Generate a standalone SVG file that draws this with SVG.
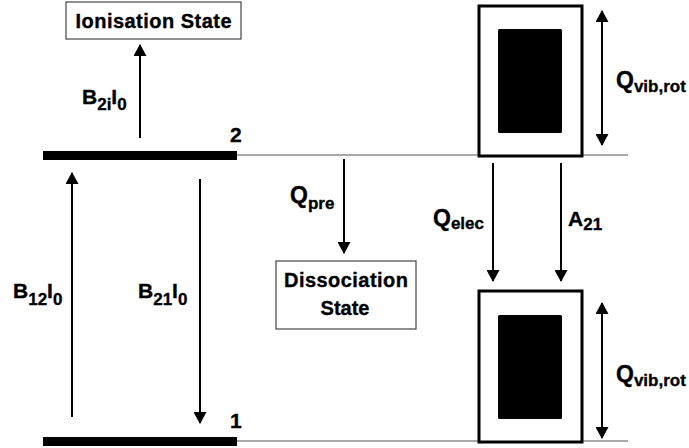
<svg xmlns="http://www.w3.org/2000/svg" width="689" height="448" viewBox="0 0 689 448">
<style>
.t{font-family:"Liberation Sans",Arial,sans-serif;font-weight:bold;fill:#000;stroke:#000;stroke-width:0.35}
.m{font-size:20px}
.b{font-size:21px}
.s{font-size:17px}
.q{font-size:23px}
.qs{font-size:17px}
.lvl{stroke:#000;stroke-width:9}
.thin{stroke:#555;stroke-width:1.2;fill:none}
.arr{stroke:#000;stroke-width:2;fill:none}
.box{fill:#fff;stroke:#444;stroke-width:1.2}
.outer{fill:#fff;stroke:#000;stroke-width:3}
.inner{fill:#000}
</style>
<defs>
<marker id="ah" viewBox="0 0 12 13" refX="11" refY="6.5" markerWidth="12" markerHeight="13" markerUnits="userSpaceOnUse" orient="auto">
<path d="M0,0 L12,6.5 L0,13 Z" fill="#000"/>
</marker>
<marker id="as" viewBox="0 0 12 13" refX="1" refY="6.5" markerWidth="12" markerHeight="13" markerUnits="userSpaceOnUse" orient="auto">
<path d="M12,0 L0,6.5 L12,13 Z" fill="#000"/>
</marker>
</defs>

<g id="level-lines">
<line class="thin" x1="237" y1="155" x2="628" y2="155"/>
<line class="thin" x1="237" y1="441" x2="628" y2="441"/>
</g>

<g id="level2">
<line class="lvl" x1="43" y1="155.5" x2="237" y2="155.5"/>
<text class="t b" x="230" y="142">2</text>
</g>
<g id="level1">
<line class="lvl" x1="43" y1="441.5" x2="237" y2="441.5"/>
<text class="t b" x="230" y="428">1</text>
</g>

<g id="ionisation">
<rect class="box" x="66" y="2" width="175" height="37"/>
<text class="t m" x="153.5" y="28" text-anchor="middle" textLength="156">Ionisation State</text>
</g>

<g id="dissociation">
<rect class="box" x="276" y="261" width="140" height="68"/>
<text class="t m" x="346" y="287" text-anchor="middle" textLength="124">Dissociation</text>
<text class="t m" x="345" y="315" text-anchor="middle">State</text>
</g>

<g id="upper-manifold">
<rect class="outer" x="479" y="6" width="103" height="150"/>
<rect class="inner" x="498" y="29" width="64" height="104" rx="1.5"/>
</g>
<g id="lower-manifold">
<rect class="outer" x="479" y="291" width="103" height="151"/>
<rect class="inner" x="498" y="315" width="64" height="104" rx="1.5"/>
</g>

<g id="connectors">
<line class="arr" x1="140" y1="138" x2="140" y2="45" marker-end="url(#ah)"/>
<line class="arr" x1="72" y1="417" x2="72" y2="173" marker-end="url(#ah)"/>
<line class="arr" x1="200" y1="179" x2="200" y2="423" marker-end="url(#ah)"/>
<line class="arr" x1="344" y1="159" x2="344" y2="253" marker-end="url(#ah)"/>
<line class="arr" x1="493" y1="163" x2="493" y2="281" marker-end="url(#ah)"/>
<line class="arr" x1="561" y1="163" x2="561" y2="281" marker-end="url(#ah)"/>
<line class="arr" x1="602" y1="11" x2="602" y2="145" marker-start="url(#as)" marker-end="url(#ah)"/>
<line class="arr" x1="602" y1="303" x2="602" y2="438" marker-start="url(#as)" marker-end="url(#ah)"/>
</g>

<g id="labels">
<text class="t b" x="82" y="104">B<tspan class="s" dy="6">2i</tspan><tspan dy="-6">I</tspan><tspan class="s" dy="6">0</tspan></text>
<text class="t b" x="13" y="298">B<tspan class="s" dy="7">12</tspan><tspan dy="-7">I</tspan><tspan class="s" dy="7">0</tspan></text>
<text class="t b" x="138" y="298">B<tspan class="s" dy="7">21</tspan><tspan dy="-7">I</tspan><tspan class="s" dy="7">0</tspan></text>
<text class="t q" x="290" y="203">Q<tspan class="qs" dy="6">pre</tspan></text>
<text class="t q" x="433" y="226">Q<tspan class="qs" dy="3">elec</tspan></text>
<text class="t b" x="568" y="226">A<tspan class="s" dy="4">21</tspan></text>
<text class="t q" x="616" y="88">Q<tspan class="qs" dy="4">vib,rot</tspan></text>
<text class="t q" x="616" y="382">Q<tspan class="qs" dy="4">vib,rot</tspan></text>
</g>
</svg>
